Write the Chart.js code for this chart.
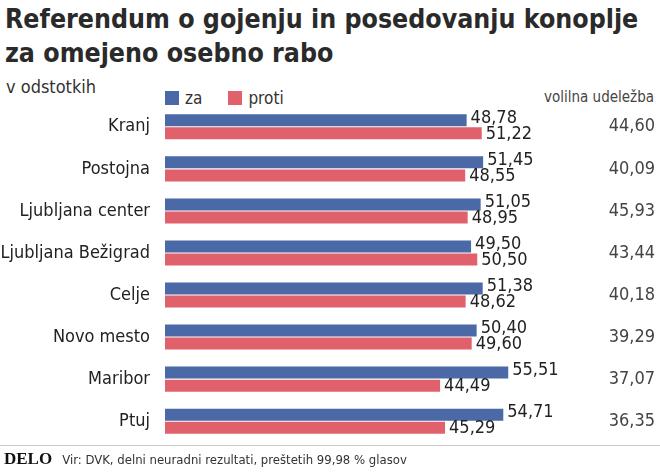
<!DOCTYPE html>
<html><head><meta charset="utf-8">
<script src="https://cdn.jsdelivr.net/npm/chart.js@4"></script>
<style>
body{margin:0;width:660px;height:472px;background:#fff;font-family:"DejaVu Sans Condensed","DejaVu Sans",sans-serif;color:#222;position:relative;overflow:hidden}
#t{position:absolute;left:5px;top:2px;font-weight:bold;font-size:26.5px;line-height:34px;color:#2a2a2a}
#sub{position:absolute;left:6px;top:76px;font-size:18px;color:#333}
#leg{position:absolute;left:165px;top:88px;font-size:17px;color:#333}
#leg span.b{display:inline-block;width:14px;height:14px;vertical-align:-1px;margin-right:6px}
#ud{position:absolute;right:6px;top:88px;font-size:15px;color:#444}
#c{position:absolute;left:0;top:88px}
#line{position:absolute;left:0;top:445px;width:660px;border-top:1px solid #ccc}
#ft{position:absolute;left:4px;top:449px;font-size:13px;color:#333}
#ft b{font-family:"Liberation Serif",serif;font-size:17px;margin-right:10px;color:#111}
</style></head><body>
<div id="t">Referendum o gojenju in posedovanju konoplje<br>za omejeno osebno rabo</div>
<div id="sub">v odstotkih</div>
<div id="leg"><span class="b" style="background:#4a69a6"></span>za<span class="b" style="background:#e0616b;margin-left:26px"></span>proti</div>
<div id="ud">volilna udeležba</div>
<canvas id="c" width="660" height="372"></canvas>
<div id="line"></div>
<div id="ft"><b>DELO</b>Vir: DVK, delni neuradni rezultati,  preštetih 99,98 % glasov</div>
<script>
const categories=["Kranj","Postojna","Ljubljana center","Ljubljana Bežigrad","Celje","Novo mesto","Maribor","Ptuj"];
const za=[48.78,51.45,51.05,49.50,51.38,50.40,55.51,54.71];
const proti=[51.22,48.55,48.95,50.50,48.62,49.60,44.49,45.29];
const udelezba=[44.60,40.09,45.93,43.44,40.18,39.29,37.07,36.35];
const fmt=v=>v.toFixed(2).replace('.',',');
const F='"DejaVu Sans Condensed","DejaVu Sans"';
const labels={id:'lab',afterDatasetsDraw(ch){const c=ch.ctx;c.save();c.font='18px '+F;c.fillStyle='#222';c.textBaseline='middle';
ch.data.datasets.forEach((ds,di)=>{ch.getDatasetMeta(di).data.forEach((b,i)=>{c.textAlign='left';c.fillText(fmt(ds.data[i]),b.x+4,b.y+(di?1:-2));});});
c.textAlign='right';c.fillStyle='#444';const ys=ch.scales.y;udelezba.forEach((v,i)=>c.fillText(fmt(v),655,ys.getPixelForValue(i)));c.restore();}};
new Chart(document.getElementById('c'),{type:'bar',data:{labels:categories,datasets:[
{data:za,backgroundColor:'#4a69a6',categoryPercentage:0.62,barPercentage:0.92},
{data:proti,backgroundColor:'#e0616b',categoryPercentage:0.62,barPercentage:0.92}]},
options:{indexAxis:'y',responsive:false,animation:false,layout:{padding:{right:124,top:0,bottom:0}},
plugins:{legend:{display:false},tooltip:{enabled:false}},
scales:{x:{display:false,min:0,max:60},y:{grid:{display:false},border:{display:false},afterFit(s){s.width=165;},
ticks:{color:'#222',padding:7,font:{family:F,size:18}}}}},plugins:[labels]});
</script></body></html>
